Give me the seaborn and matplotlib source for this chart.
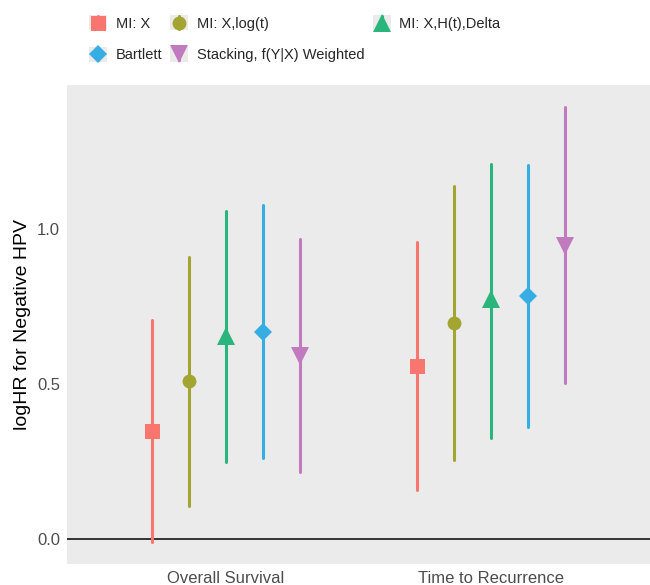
import pandas as pd
import matplotlib
matplotlib.use("Agg")
import matplotlib.pyplot as plt
import seaborn as sns
from matplotlib.legend_handler import HandlerBase
from matplotlib.patches import Rectangle
from matplotlib.lines import Line2D

# values
outcomes = ["Overall Survival", "Time to Recurrence"]
methods = ["MI: X", "MI: X,log(t)", "MI: X,H(t),Delta", "Bartlett",
           "Stacking, f(Y|X) Weighted"]

os_est = [0.347, 0.509, 0.655, 0.668, 0.591]
os_lo = [-0.012, 0.105, 0.247, 0.262, 0.214]
os_hi = [0.706, 0.911, 1.058, 1.077, 0.969]

ttr_est = [0.559, 0.697, 0.774, 0.784, 0.946]
ttr_lo = [0.158, 0.255, 0.326, 0.361, 0.503]
ttr_hi = [0.958, 1.139, 1.211, 1.208, 1.396]

colors = ["#F8766D", "#A3A533", "#29B57B", "#37AEE3", "#C17ABD"]
markers = ["s", "o", "^", "D", "v"]
marker_size = {"s": 10.8, "o": 10.0, "^": 13.0, "D": 9.6, "v": 13.5}

# long table: lo / est / hi per row, median gives est, 0-100 pi gives lo-hi
rows = []
for outcome, est, lo, hi in [(outcomes[0], os_est, os_lo, os_hi),
                             (outcomes[1], ttr_est, ttr_lo, ttr_hi)]:
    for i, m in enumerate(methods):
        for v in (lo[i], est[i], hi[i]):
            rows.append({"outcome": outcome, "method": m, "value": v})
df = pd.DataFrame(rows)

sns.set_style("white", {"axes.facecolor": "#EBEBEB", "axes.grid": False})
plt.rcParams["font.family"] = ["Liberation Sans", "DejaVu Sans"]

fig = plt.figure(figsize=(6.5, 5.85), dpi=100)
ax = fig.add_axes([67 / 650, 1 - 564 / 585, 1 - 67 / 650, (564 - 85) / 585])

ax.axhline(0, color="#333333", lw=1.4, zorder=1)

sns.pointplot(data=df, x="outcome", y="value", hue="method",
              order=outcomes, hue_order=methods, palette=colors,
              estimator="median", errorbar=("pi", 100),
              dodge=0.56, markers=markers, linestyles="none",
              linewidth=2.2, markeredgewidth=0,
              err_kws={"linewidth": 2.2}, legend=False, ax=ax)

for ln in ax.lines:
    mk = ln.get_marker()
    if mk in marker_size:
        ln.set_markersize(marker_size[mk])
        ln.set_zorder(4)

for s in ax.spines.values():
    s.set_visible(False)

ax.set_xlim(-0.6, 1.6)
ax.set_ylim(-0.082, 1.466)
ax.set_yticks([0.0, 0.5, 1.0])
ax.set_yticklabels(["0.0", "0.5", "1.0"])
ax.set_xlabel("")
ax.set_ylabel("logHR for Negative HPV", fontsize=14, color="black", labelpad=4)
ax.tick_params(axis="both", length=3, width=1, color="#333333",
               labelsize=12, labelcolor="#4D4D4D", pad=2)


class KeyHandler(HandlerBase):
    def create_artists(self, legend, orig_handle, xdescent, ydescent,
                       width, height, fontsize, trans):
        bg = Rectangle((-xdescent, -ydescent), width, height,
                       facecolor="#EBEBEB", edgecolor="none", transform=trans)
        cx = -xdescent + width / 2
        cy = -ydescent + height / 2
        c = orig_handle.get_color()
        bar = Line2D([cx, cx], [-ydescent + 1, -ydescent + height - 1],
                     color=c, lw=2.2, transform=trans)
        dot = Line2D([cx], [cy], marker=orig_handle.get_marker(),
                     markersize=orig_handle.get_markersize(), color=c,
                     markeredgewidth=0, linestyle="none", transform=trans)
        return [bg, bar, dot]


handles = [Line2D([], [], color=c, marker=m, markersize=marker_size[m],
                  linestyle="none") for c, m in zip(colors, markers)]
order = [0, 3, 1, 4, 2]
fig.legend([handles[i] for i in order], [methods[i] for i in order],
           handler_map={Line2D: KeyHandler()},
           loc="upper left", bbox_to_anchor=(89 / 650, 1 - 15 / 585),
           ncol=3, frameon=False, fontsize=10.5, borderpad=0,
           borderaxespad=0, handlelength=1.23, handleheight=1.23,
           handletextpad=0.6, columnspacing=0.55, labelspacing=1.1)

fig.savefig("out.png", dpi=100)
